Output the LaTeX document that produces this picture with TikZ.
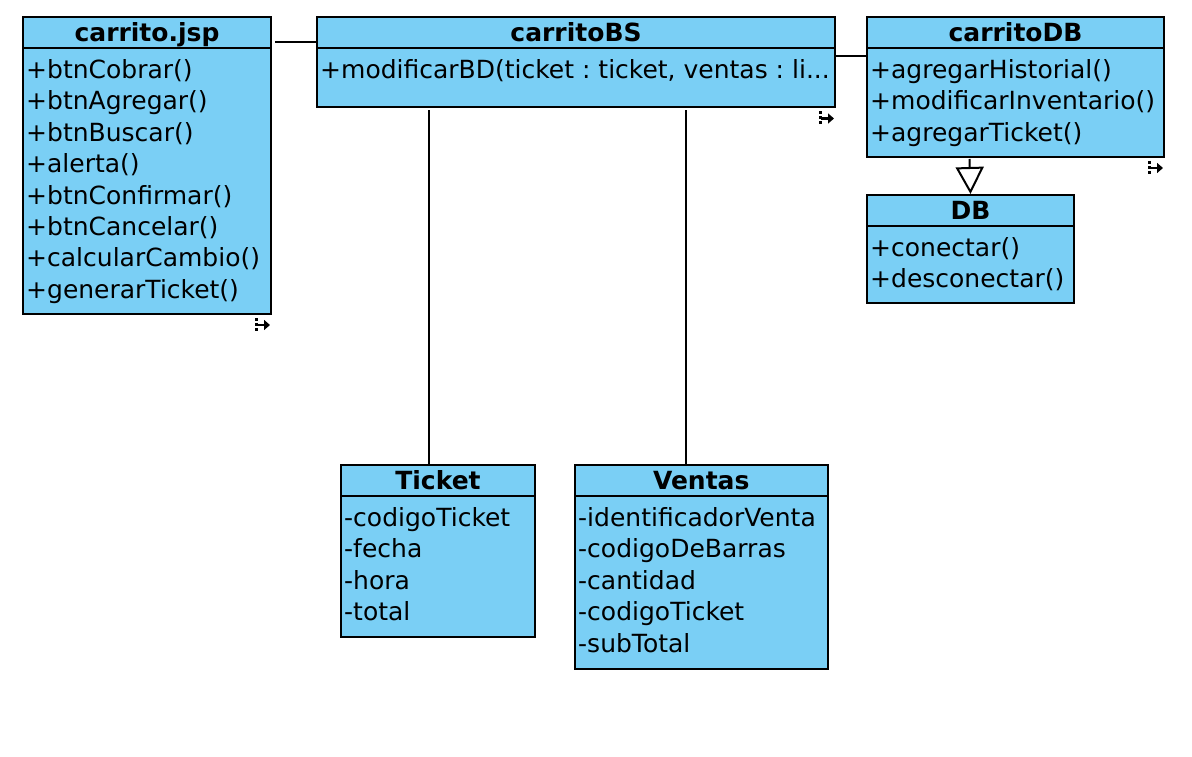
\documentclass[tikz,border=0pt]{standalone}
\usepackage{fontspec}
\setmainfont{DejaVu Sans}
\usetikzlibrary{calc,arrows.meta}
\definecolor{clsfill}{HTML}{7ACFF5}
\frenchspacing
\begin{document}
\begin{tikzpicture}[x=1pt,y=-1pt,
  cls/.style={draw, line width=2pt, fill=clsfill, inner sep=0pt, anchor=north west},
  ttl/.style={anchor=base, inner sep=0pt, font=\bfseries\fontsize{25}{30}\selectfont},
  mem/.style={anchor=base west, inner sep=0pt, font=\fontsize{25}{30}\selectfont},
  conn/.style={line width=2pt},
  resicon/.pic={
    \draw[line width=3pt, dash pattern=on 3pt off 2pt] (-16,3) -- (-16,17);
    \draw[line width=2.6pt, -{Triangle[length=6pt,width=10pt]}] (-15,10) -- (-2,10);
  }]
\useasboundingbox (0,0) rectangle (1192,757);

% carrito.jsp
\node[cls, minimum width=248pt, minimum height=297pt] (jsp) at (22,16) {};
\draw[conn] ($(jsp.north west)+(0,32)$) -- ($(jsp.north east)+(0,32)$);
\node[ttl] (jspT) at ($(jsp.north)+(0,25.5)$) {carrito.jsp};
\foreach \t [count=\i from 0] in {+btnCobrar(),+btnAgregar(),+btnBuscar(),+alerta(),+btnConfirmar(),+btnCancelar(),+calcularCambio(),+generarTicket()}
  \node[mem] (jsp-\i) at ($(jsp.north west)+(4,62.5+31.4*\i)$) {\t};

% carritoBS
\node[cls, minimum width=518pt, minimum height=90.5pt] (bs) at (316,16) {};
\draw[conn] ($(bs.north west)+(0,32)$) -- ($(bs.north east)+(0,32)$);
\node[ttl] (bsT) at ($(bs.north)+(0,25.5)$) {carritoBS};
\node[mem] (bs-0) at ($(bs.north west)+(4,62.5)$) {+modificarBD(ticket : ticket, ventas : li...};

% carritoDB
\node[cls, minimum width=297pt, minimum height=140pt] (cdb) at (866,16) {};
\draw[conn] ($(cdb.north west)+(0,32)$) -- ($(cdb.north east)+(0,32)$);
\node[ttl] (cdbT) at ($(cdb.north)+(0,25.5)$) {carritoDB};
\foreach \t [count=\i from 0] in {+agregarHistorial(),+modificarInventario(),+agregarTicket()}
  \node[mem] (cdb-\i) at ($(cdb.north west)+(4,62.5+31.4*\i)$) {\t};

% DB
\node[cls, minimum width=207pt, minimum height=108pt] (db) at (866,194) {};
\draw[conn] ($(db.north west)+(0,32)$) -- ($(db.north east)+(0,32)$);
\node[ttl] (dbT) at ($(db.north)+(0,25.5)$) {DB};
\foreach \t [count=\i from 0] in {+conectar(),+desconectar()}
  \node[mem] (db-\i) at ($(db.north west)+(4,62.5+31.4*\i)$) {\t};

% Ticket
\node[cls, minimum width=194pt, minimum height=171.5pt] (tk) at (340,464) {};
\draw[conn] ($(tk.north west)+(0,32)$) -- ($(tk.north east)+(0,32)$);
\node[ttl] (tkT) at ($(tk.north)+(0,25.5)$) {Ticket};
\foreach \t [count=\i from 0] in {-codigoTicket,-fecha,-hora,-total}
  \node[mem] (tk-\i) at ($(tk.north west)+(4,62.5+31.4*\i)$) {\t};

% Ventas
\node[cls, minimum width=252.5pt, minimum height=203.5pt] (vt) at (574,464) {};
\draw[conn] ($(vt.north west)+(0,32)$) -- ($(vt.north east)+(0,32)$);
\node[ttl] (vtT) at ($(vt.north)+(0,25.5)$) {Ventas};
\foreach \t [count=\i from 0] in {-identificadorVenta,-codigoDeBarras,-cantidad,-codigoTicket,-subTotal}
  \node[mem] (vt-\i) at ($(vt.north west)+(4,62.5+31.4*\i)$) {\t};

% connectors
\draw[conn] ($(jsp.north east)+(3,26)$) -- ($(bs.north west)+(0,26)$);
\draw[conn] ($(bs.north east)+(0,40)$) -- ($(cdb.north west)+(0,40)$);
\draw[conn] ($(bs.south west)+(113,2)$) -- ($(tk.north west)+(89,0)$);
\draw[conn] ($(bs.south west)+(370,2)$) -- ($(vt.north west)+(112,0)$);
\draw[conn, -{Triangle[open, length=27pt, width=28pt, line width=2pt]}] ($(cdb.south west)+(103.5,1)$) -- (db.north);

% resize markers
\pic at (jsp.south east) {resicon};
\pic at (bs.south east) {resicon};
\pic at (cdb.south east) {resicon};
\end{tikzpicture}
\end{document}
